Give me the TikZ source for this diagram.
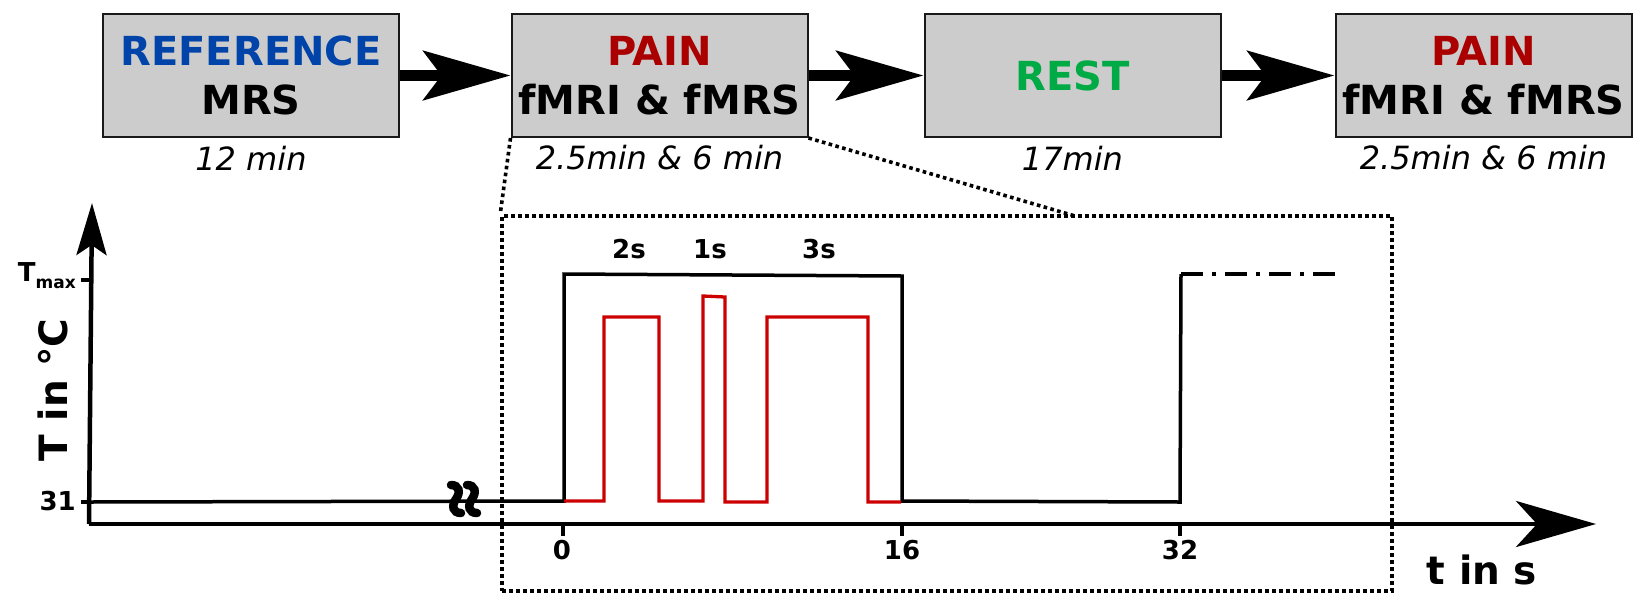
\documentclass[tikz,border=0pt]{standalone}
\usepackage{fontspec}
\setmainfont{DejaVu Sans}
\usetikzlibrary{arrows.meta}
\definecolor{refblue}{HTML}{0044AA}
\definecolor{painred}{HTML}{AA0000}
\definecolor{restgreen}{HTML}{00AA44}
\definecolor{stimred}{HTML}{CC0000}
\definecolor{boxgray}{HTML}{CCCCCC}
\begin{document}
\begin{tikzpicture}[x=1pt,y=-1pt,
  stagebox/.style={draw=black!90,line width=2pt,fill=boxgray,minimum width=296pt,minimum height=123pt,inner sep=0pt,align=center,font=\fontsize{40}{49}\selectfont\bfseries},
  durlabel/.style={font=\fontsize{32}{34}\selectfont\itshape,inner sep=0pt},
  bigarrow/.style={line width=11pt,-{Stealth[length=87pt,width=49pt,inset=18pt]}},
  axisline/.style={line width=4.5pt},
  ticklab/.style={font=\fontsize{26}{26}\selectfont\bfseries,inner sep=0pt},
  axislab/.style={font=\fontsize{39}{39}\selectfont\bfseries,inner sep=0pt},
  tickmark/.style={line width=3.5pt},
  stimblack/.style={line width=3.5pt,line join=miter},
  stimredl/.style={line width=3.3pt,draw=stimred,line join=miter},
  dotline/.style={line width=3.6pt,dash pattern=on 3.6pt off 3.4pt},
  breakmark/.style={line width=8.5pt,line cap=round}
]
\useasboundingbox (0,0) rectangle (1644,606);

% stage boxes
\node[stagebox] (b1) at (251,75.5) {\textcolor{refblue}{REFERENCE}\\MRS};
\node[stagebox] (b2) at (659.5,75.5) {\textcolor{painred}{PAIN}\\fMRI \& fMRS};
\node[stagebox] (b3) at (1072.5,75.5) {\textcolor{restgreen}{REST}};
\node[stagebox] (b4) at (1483.5,75.5) {\textcolor{painred}{PAIN}\\fMRI \& fMRS};

\node[durlabel] (l1) at (251,158) {12 min};
\node[durlabel] (l2) at (659.5,158) {2.5min \& 6 min};
\node[durlabel] (l3) at (1072.5,158) {17min};
\node[durlabel] (l4) at (1483.5,158) {2.5min \& 6 min};

\draw[bigarrow] (b1.east) -- (b2.west);
\draw[bigarrow] (b2.east) -- (b3.west);
\draw[bigarrow] (b3.east) -- (b4.west);

% zoom box
\node[draw,dotline,minimum width=890pt,minimum height=375pt,inner sep=0pt] (zb) at (947,403.5) {};
\coordinate (zr) at (1075,216);
\draw[dotline] (b2.south west) -- (zb.north west);
\draw[dotline] (b2.south east) -- (zr);

% axes
\coordinate (org) at (89,524);
\coordinate (ytop) at (92,203);
\coordinate (xend) at (1596,524);
\draw[axisline,-{Stealth[length=52pt,width=30pt,inset=10pt]}] (org) -- (ytop);
\draw[axisline,-{Stealth[length=80pt,width=46pt,inset=21pt]}] (org) -- (xend);

% y ticks
\draw[tickmark] (81,280) -- (91,280);
\draw[tickmark] (81,502) -- (91,502);
\node[ticklab,anchor=east] (tmax) at (76,276) {T\raisebox{-7pt}{\fontsize{17}{17}\selectfont max}};
\node[ticklab,anchor=east] (t31) at (76,501) {31};

% x ticks
\draw[tickmark] (563,524) -- (563,536);
\draw[tickmark] (902,524) -- (902,536);
\draw[tickmark] (1180,524) -- (1180,536);
\node[ticklab] (x0) at (562,550) {0};
\node[ticklab] (x16) at (902,550) {16};
\node[ticklab] (x32) at (1180,550) {32};

\node[axislab] (tlab) at (1482,570) {t in s};
\node[axislab,rotate=90] (ylab) at (53,390) {T in °C};

% stimulus
\draw[stimblack] (89,502) -- (564,501) -- (564,274) -- (902,276) -- (902,501) -- (1180,502) -- (1181,274);
\draw[line width=3.5pt,dash pattern=on 22pt off 9pt on 4pt off 9pt] (1181,274) -- (1343,274);
\draw[stimredl] (564,501) -- (604,501) -- (604,317) -- (659,317) -- (659,501) -- (703,501) -- (703,296) -- (725,297) -- (725,502) -- (767,502) -- (767,317) -- (868,317) -- (868,502) -- (901,502);

\node[ticklab] (s2) at (629,249) {2s};
\node[ticklab] (s1) at (710,249) {1s};
\node[ticklab] (s3) at (819,249) {3s};

% break mark
\draw[breakmark] (451,485) .. controls (459,485) and (461,492) .. (456,499) .. controls (451,506) and (453,513) .. (461,513);
\draw[breakmark] (467,485) .. controls (475,485) and (477,492) .. (472,499) .. controls (467,506) and (469,513) .. (477,513);
\end{tikzpicture}
\end{document}
